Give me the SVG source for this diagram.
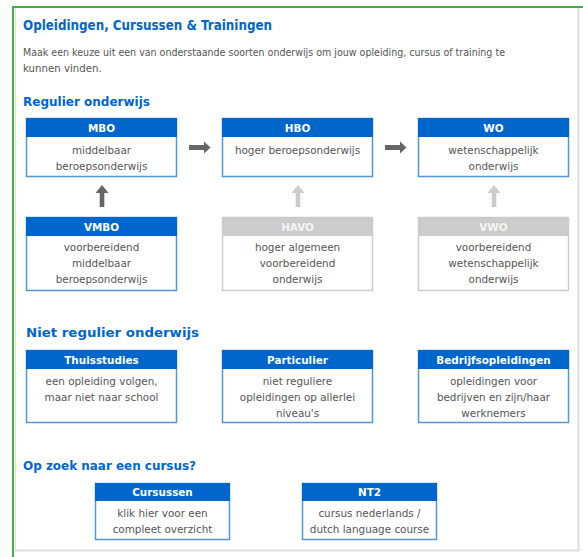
<svg xmlns="http://www.w3.org/2000/svg" width="583" height="557" viewBox="0 0 583 557">
  <style>
    .h1 { font-family: "DejaVu Sans", Verdana, sans-serif; font-weight: bold; font-size: 13.5px; fill: #0066cc; }
    .h2 { font-family: "DejaVu Sans", Verdana, sans-serif; font-weight: bold; font-size: 12.4px; fill: #0066cc; }
    .intro { font-family: "DejaVu Sans", Verdana, sans-serif; font-size: 10.2px; fill: #555555; }
    .hd { fill: #0066cc; }
    .frame { fill: #ffffff; stroke: #5096dc; stroke-width: 1.5; }
    .hd-off { fill: #cccccc; }
    .frame-off { fill: #ffffff; stroke: #cccccc; stroke-width: 1.5; }
    .title { font-family: "DejaVu Sans", Verdana, sans-serif; font-weight: bold; font-size: 10.4px; fill: #ffffff; text-anchor: middle; }
    .title-off { fill: #f4f4f4; }
    .body { font-family: "DejaVu Sans", Verdana, sans-serif; font-size: 10.4px; fill: #555555; text-anchor: middle; }
    .dark { fill: #666666; }
    .light { fill: #cccccc; }
  </style>

  <!-- page background and panel -->
  <rect x="0" y="0" width="583" height="557" fill="#ffffff"/>
  <line x1="12" y1="7" x2="583" y2="7" stroke="#3db53d" stroke-width="2"/>
  <line x1="13" y1="6" x2="13" y2="557" stroke="#3db53d" stroke-width="2"/>
  <line x1="15.5" y1="8" x2="15.5" y2="551" stroke="#e2e2e2" stroke-width="1.2"/>
  <line x1="578.5" y1="8" x2="578.5" y2="551" stroke="#dddddd" stroke-width="2"/>
  <line x1="15" y1="550.5" x2="579" y2="550.5" stroke="#dddddd" stroke-width="2"/>

  <!-- headings and intro -->
  <text class="h1" x="23" y="30" textLength="249" lengthAdjust="spacingAndGlyphs">Opleidingen, Cursussen &amp; Trainingen</text>
  <text class="intro" x="23" y="56" textLength="482" lengthAdjust="spacingAndGlyphs">Maak een keuze uit een van onderstaande soorten onderwijs om jouw opleiding, cursus of training te</text>
  <text class="intro" x="23" y="72">kunnen vinden.</text>
  <text class="h2" x="23" y="106" textLength="127" lengthAdjust="spacingAndGlyphs">Regulier onderwijs</text>
  <text class="h2" x="26" y="337" textLength="173" lengthAdjust="spacingAndGlyphs">Niet regulier onderwijs</text>
  <text class="h2" x="23" y="470" textLength="173" lengthAdjust="spacingAndGlyphs">Op zoek naar een cursus?</text>

  <!-- connectors -->
  <g id="connectors">
    <g class="dark">
      <rect x="189" y="145" width="16" height="5"/>
      <polygon points="204,141.5 210.5,147.5 204,153.5"/>
      <rect x="385" y="145" width="16" height="5"/>
      <polygon points="400,141.5 406.5,147.5 400,153.5"/>
      <rect x="99.7" y="192" width="4.6" height="15"/>
      <polygon points="95.5,193 102,185 108.5,193"/>
    </g>
    <g class="light">
      <rect x="295.7" y="192" width="4.6" height="15"/>
      <polygon points="291.5,193 298,185 304.5,193"/>
      <rect x="491.7" y="192" width="4.6" height="15"/>
      <polygon points="487.5,193 494,185 500.5,193"/>
    </g>
  </g>

  <!-- regulier onderwijs -->
  <g id="mbo">
    <rect class="frame" x="26.5" y="118.5" width="150" height="58"/>
    <rect class="hd" x="26" y="118" width="151" height="19"/>
    <text class="title" x="101.5" y="131.5">MBO</text>
    <text class="body" x="101.5" y="153.5">middelbaar</text>
    <text class="body" x="101.5" y="169.5">beroepsonderwijs</text>
  </g>
  <g id="hbo">
    <rect class="frame" x="222.5" y="118.5" width="150" height="58"/>
    <rect class="hd" x="222" y="118" width="151" height="19"/>
    <text class="title" x="297.5" y="131.5">HBO</text>
    <text class="body" x="297.5" y="153.5">hoger beroepsonderwijs</text>
  </g>
  <g id="wo">
    <rect class="frame" x="418.5" y="118.5" width="150" height="58"/>
    <rect class="hd" x="418" y="118" width="151" height="19"/>
    <text class="title" x="493.5" y="131.5">WO</text>
    <text class="body" x="493.5" y="153.5">wetenschappelijk</text>
    <text class="body" x="493.5" y="169.5">onderwijs</text>
  </g>
  <g id="vmbo">
    <rect class="frame" x="26.5" y="217.5" width="150" height="73"/>
    <rect class="hd" x="26" y="217" width="151" height="19"/>
    <text class="title" x="101.5" y="230.5">VMBO</text>
    <text class="body" x="101.5" y="251">voorbereidend</text>
    <text class="body" x="101.5" y="267">middelbaar</text>
    <text class="body" x="101.5" y="283">beroepsonderwijs</text>
  </g>
  <g id="havo">
    <rect class="frame-off" x="222.5" y="217.5" width="150" height="73"/>
    <rect class="hd-off" x="222" y="217" width="151" height="19"/>
    <text class="title title-off" x="297.5" y="230.5">HAVO</text>
    <text class="body" x="297.5" y="251">hoger algemeen</text>
    <text class="body" x="297.5" y="267">voorbereidend</text>
    <text class="body" x="297.5" y="283">onderwijs</text>
  </g>
  <g id="vwo">
    <rect class="frame-off" x="418.5" y="217.5" width="150" height="73"/>
    <rect class="hd-off" x="418" y="217" width="151" height="19"/>
    <text class="title title-off" x="493.5" y="230.5">VWO</text>
    <text class="body" x="493.5" y="251">voorbereidend</text>
    <text class="body" x="493.5" y="267">wetenschappelijk</text>
    <text class="body" x="493.5" y="283">onderwijs</text>
  </g>

  <!-- niet regulier onderwijs -->
  <g id="thuisstudies">
    <rect class="frame" x="26.5" y="350.5" width="150" height="72"/>
    <rect class="hd" x="26" y="350" width="151" height="19"/>
    <text class="title" x="101.5" y="363.5">Thuisstudies</text>
    <text class="body" x="101.5" y="385">een opleiding volgen,</text>
    <text class="body" x="101.5" y="401">maar niet naar school</text>
  </g>
  <g id="particulier">
    <rect class="frame" x="222.5" y="350.5" width="150" height="72"/>
    <rect class="hd" x="222" y="350" width="151" height="19"/>
    <text class="title" x="297.5" y="363.5">Particulier</text>
    <text class="body" x="297.5" y="385">niet reguliere</text>
    <text class="body" x="297.5" y="401">opleidingen op allerlei</text>
    <text class="body" x="297.5" y="417">niveau's</text>
  </g>
  <g id="bedrijfsopleidingen">
    <rect class="frame" x="418.5" y="350.5" width="150" height="72"/>
    <rect class="hd" x="418" y="350" width="151" height="19"/>
    <text class="title" x="493.5" y="363.5">Bedrijfsopleidingen</text>
    <text class="body" x="493.5" y="385">opleidingen voor</text>
    <text class="body" x="493.5" y="401">bedrijven en zijn/haar</text>
    <text class="body" x="493.5" y="417">werknemers</text>
  </g>

  <!-- cursussen -->
  <g id="cursussen">
    <rect class="frame" x="95.5" y="483.5" width="134" height="56"/>
    <rect class="hd" x="95" y="483" width="135" height="18"/>
    <text class="title" x="162.5" y="496">Cursussen</text>
    <text class="body" x="162.5" y="517">klik hier voor een</text>
    <text class="body" x="162.5" y="533">compleet overzicht</text>
  </g>
  <g id="nt2">
    <rect class="frame" x="302.5" y="483.5" width="134" height="56"/>
    <rect class="hd" x="302" y="483" width="135" height="18"/>
    <text class="title" x="369.5" y="496">NT2</text>
    <text class="body" x="369.5" y="517">cursus nederlands /</text>
    <text class="body" x="369.5" y="533">dutch language course</text>
  </g>
</svg>
